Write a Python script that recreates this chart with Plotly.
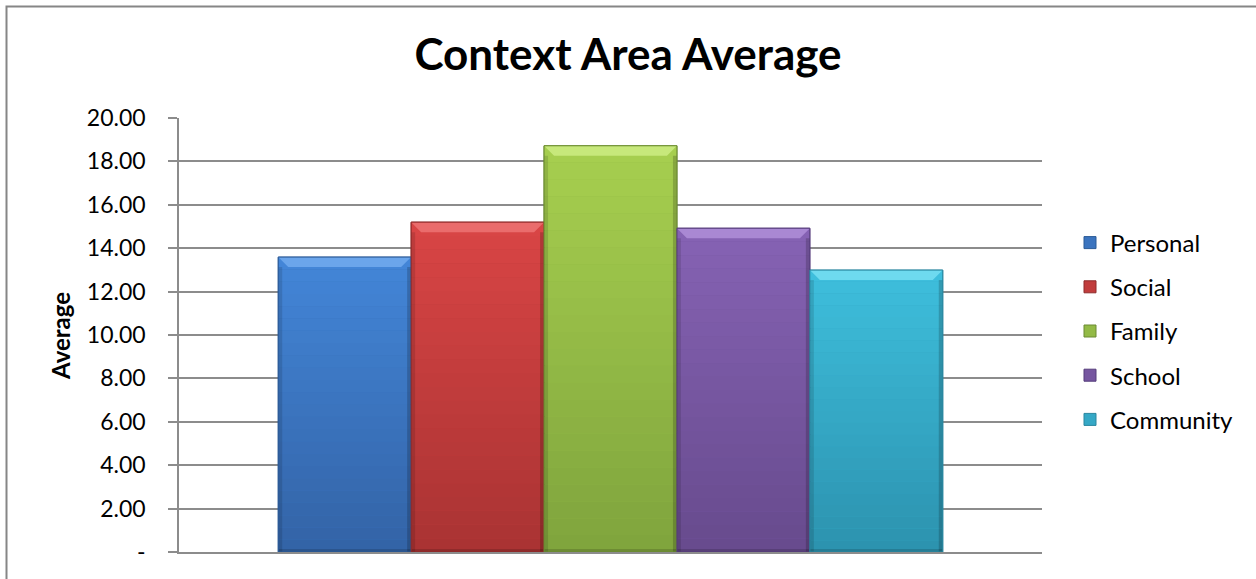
import plotly.graph_objects as go

series = ["Personal", "Social", "Family", "School", "Community"]
values = [13.59, 15.20, 18.72, 14.92, 12.99]
x_pos = [0]
tick_vals = [0, 2, 4, 6, 8, 10, 12, 14, 16, 18, 20]
tick_text = ["-", "2.00", "4.00", "6.00", "8.00", "10.00", "12.00", "14.00", "16.00", "18.00", "20.00"]

top_colors = ["#4386D8", "#D94545", "#A7CF4F", "#8663B4", "#3EBFDD"]
bot_colors = ["#3363A6", "#A93333", "#7FA43D", "#674A8D", "#2C92AE"]
bevel_colors = ["#78B0F2", "#F07A7A", "#D2F08A", "#B595DD", "#7FE3F5"]
edge_colors = ["#2B5A97", "#8E2B2B", "#6B8A32", "#553C7A", "#2A869F"]

FONT = "Lato"
W, H = 1256, 579
L, R, T, B = 179, 214, 118, 27
pw, ph = W - L - R, H - T - B
BARGAP = 0.23
YMAX = 20


def hex_rgb(h):
    return tuple(int(h[k:k + 2], 16) for k in (1, 3, 5))


def mix(a, b, t):
    ra, rb = hex_rgb(a), hex_rgb(b)
    return "rgb(%d,%d,%d)" % tuple(round(ra[k] + (rb[k] - ra[k]) * t) for k in range(3))


fig = go.Figure()
for i, (name, v) in enumerate(zip(series, values)):
    fig.add_trace(go.Bar(
        x=x_pos, y=[v], name=name, legendgroup=name,
        marker=dict(color=mix(top_colors[i], bot_colors[i], 0.5),
                    line=dict(color=edge_colors[i], width=1)),
    ))


def px_x(p):
    return (p - L) / pw


def px_y(p):
    return (H - B - p) / ph


# bevel/gradient decoration derived from the bar values
shapes = []
n = len(series)
bw = (1 - BARGAP) / n
ux = 1.0 / pw          # x units per pixel
uy = YMAX / ph         # y units per pixel
NB = 24
for i, v in enumerate(values):
    x0 = -(1 - BARGAP) / 2 + bw * i
    x1 = x0 + bw
    for k in range(NB):
        y_hi = v * (1 - k / NB)
        y_lo = v * (1 - (k + 1) / NB)
        t = (k + 0.5) / NB
        shapes.append(dict(type="rect", xref="x", yref="y", x0=x0, x1=x1, y0=y_lo, y1=y_hi,
                           line=dict(width=0), fillcolor=mix(top_colors[i], bot_colors[i], t),
                           layer="above"))
    d = 10
    dx, dy = d * ux, d * uy
    path = "M %f,%f L %f,%f L %f,%f L %f,%f Z" % (x0, v, x1, v, x1 - dx, v - dy, x0 + dx, v - dy)
    shapes.append(dict(type="path", xref="x", yref="y", path=path, line=dict(width=0),
                       fillcolor=bevel_colors[i], opacity=0.75, layer="above"))
    sx = 4 * ux
    shapes.append(dict(type="rect", xref="x", yref="y", x0=x0, x1=x0 + sx, y0=0, y1=v - dy,
                       line=dict(width=0), fillcolor="black", opacity=0.12, layer="above"))
    shapes.append(dict(type="rect", xref="x", yref="y", x0=x1 - sx, x1=x1, y0=0, y1=v - dy,
                       line=dict(width=0), fillcolor="black", opacity=0.18, layer="above"))
    shapes.append(dict(type="rect", xref="x", yref="y", x0=x0, x1=x1, y0=0, y1=3 * uy,
                       line=dict(width=0), fillcolor="black", opacity=0.15, layer="above"))
    shapes.append(dict(type="rect", xref="x", yref="y", x0=x0, x1=x1, y0=0, y1=v,
                       line=dict(color=edge_colors[i], width=1), fillcolor="rgba(0,0,0,0)",
                       layer="above"))

shapes.append(dict(type="rect", xref="paper", yref="paper",
                   x0=px_x(6.5), x1=px_x(W + 20), y0=px_y(H + 20), y1=px_y(6.5),
                   line=dict(color="#868686", width=2), fillcolor="rgba(0,0,0,0)", layer="below"))

fig.update_layout(
    width=W, height=H,
    margin=dict(l=L, r=R, t=T, b=B),
    paper_bgcolor="white", plot_bgcolor="white",
    barmode="group", bargap=BARGAP, bargroupgap=0,
    font=dict(family=FONT, color="black", size=23),
    title=dict(text="<b>Context Area Average</b>", x=0.5, xref="container", xanchor="center",
               y=1 - 55 / H, yref="container", yanchor="middle",
               font=dict(family=FONT, size=44, color="black")),
    showlegend=True,
    legend=dict(x=px_x(1070), xanchor="left", y=px_y(331), yanchor="middle",
                font=dict(family=FONT, size=24), tracegroupgap=10,
                bgcolor="rgba(0,0,0,0)", itemwidth=30),
    xaxis=dict(range=[-0.5, 0.5], showticklabels=False, showgrid=False, showline=True,
               linecolor="#8C8C8C", linewidth=1.5, ticks="", zeroline=False, fixedrange=True),
    yaxis=dict(range=[0, YMAX], tickvals=tick_vals, ticktext=tick_text,
               showgrid=True, gridcolor="#8C8C8C", gridwidth=1.5,
               showline=True, linecolor="#8C8C8C", linewidth=1.5,
               ticks="outside", ticklen=9, tickcolor="#8C8C8C", tickwidth=1.5,
               ticklabelstandoff=18, zeroline=False,
               tickfont=dict(family=FONT, size=23, color="black")),
    annotations=[dict(text="<b>Average</b>", x=px_x(60), y=px_y(336), xref="paper", yref="paper",
                      textangle=-90, showarrow=False, xanchor="center", yanchor="middle",
                      font=dict(family=FONT, size=24, color="black"))],
    shapes=shapes,
)

fig.write_html("out.html")
